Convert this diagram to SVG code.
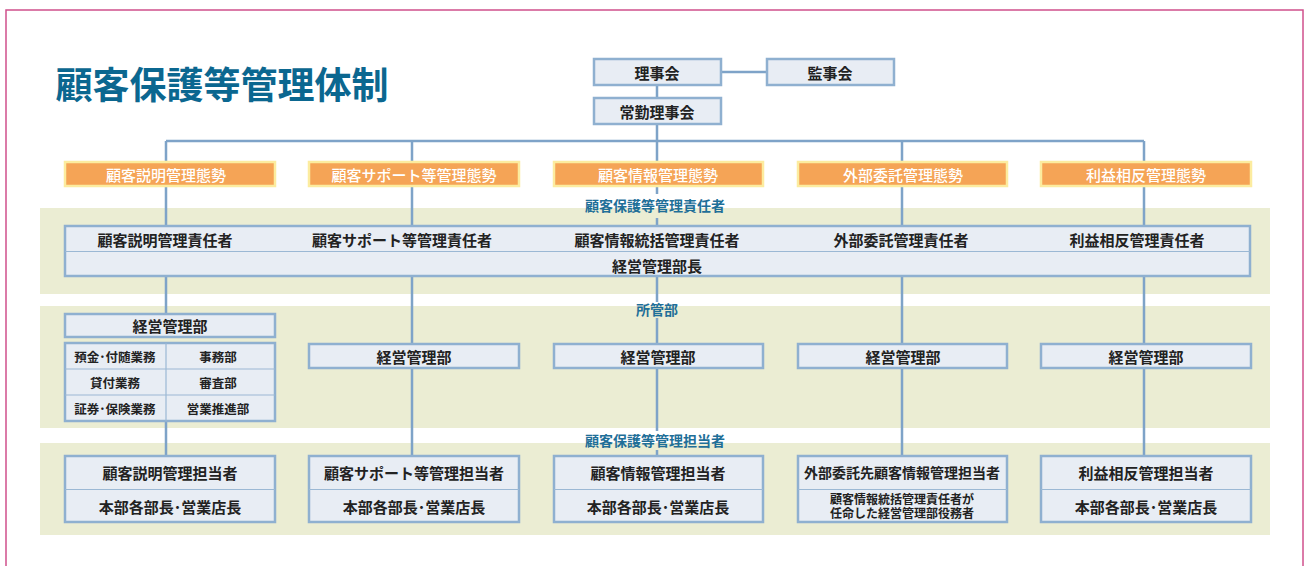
<svg xmlns="http://www.w3.org/2000/svg" width="1306" height="566" viewBox="0 0 1306 566">
<style>
text{font-family:"Noto Sans CJK JP","Noto Sans CJK SC",sans-serif;text-anchor:middle;dominant-baseline:central}
.box{fill:#e8edf4;stroke:#8fb0d0;stroke-width:2.5}
.div{stroke:#9bb8d4;stroke-width:1.2}
.or{fill:#f5a456;stroke:#fcec9f;stroke-width:2.5}
.band{fill:#ebedd3}
.t{font-size:15px;font-weight:bold;fill:#222}
.ts{font-size:12.5px;font-weight:bold;fill:#222}
.tx{font-size:12px;font-weight:bold;fill:#222}
.tw{font-size:15px;font-weight:500;fill:#fff}
.lb{font-size:14px;font-weight:bold;fill:#1f6f98}
.ln{stroke:#7ea3c8;stroke-width:2.5;fill:none}
</style>
<rect x="0" y="0" width="1306" height="566" fill="#fff"/>
<rect x="6" y="10" width="1297" height="600" fill="none" stroke="#d0508c" stroke-width="1.5"/>
<text x="222" y="83" style="font-size:37px;font-weight:bold;fill:#0b6790">顧客保護等管理体制</text>
<g id="bands">
<rect class="band" x="40" y="208" width="1230" height="86"/>
<rect class="band" x="40" y="306" width="1230" height="122"/>
<rect class="band" x="40" y="443" width="1230" height="92"/>
</g>
<g id="connectors">
<path class="ln" d="M721 72H766M657 86V97M657 124V141M166 141H1144M166 141V161M412 141V161M657 141V161M902 141V161M1144 141V161"/>
<path class="ln" d="M166 187V225M412 187V225M902 187V225M1144 187V225M657 187V194M657 218V225"/>
<path class="ln" d="M166 276V313M412 276V343M902 276V343M1144 276V343M657 276V302M657 318V343"/>
<path class="ln" d="M166 421V455M412 368V455M902 368V455M1144 368V455M657 368V431M657 450V455"/>
</g>
<g id="rijikai"><rect class="box" x="594" y="59" width="127" height="26"/><text class="t" x="657" y="72">理事会</text></g>
<g id="kanjikai"><rect class="box" x="767" y="59" width="127" height="26"/><text class="t" x="830" y="72">監事会</text></g>
<g id="jokin"><rect class="box" x="594" y="98" width="127" height="26"/><text class="t" x="657" y="111">常勤理事会</text></g>
<g id="taisei1"><rect class="or" x="65" y="162" width="210" height="24"/><text class="tw" x="166" y="174">顧客説明管理態勢</text></g>
<g id="taisei2"><rect class="or" x="309" y="162" width="210" height="24"/><text class="tw" x="414" y="174">顧客サポート等管理態勢</text></g>
<g id="taisei3"><rect class="or" x="554" y="162" width="209" height="24"/><text class="tw" x="658" y="174">顧客情報管理態勢</text></g>
<g id="taisei4"><rect class="or" x="798" y="162" width="209" height="24"/><text class="tw" x="903" y="174">外部委託管理態勢</text></g>
<g id="taisei5"><rect class="or" x="1041" y="162" width="210" height="24"/><text class="tw" x="1146" y="174">利益相反管理態勢</text></g>
<g id="label1"><text class="lb" x="655" y="205">顧客保護等管理責任者</text></g>
<g id="sekinin">
<rect class="box" x="65" y="226" width="1185" height="50"/>
<line class="div" x1="65" y1="251.5" x2="1250" y2="251.5"/>
<text class="t" x="165" y="239">顧客説明管理責任者</text>
<text class="t" x="402" y="239">顧客サポート等管理責任者</text>
<text class="t" x="657" y="239">顧客情報統括管理責任者</text>
<text class="t" x="901" y="239">外部委託管理責任者</text>
<text class="t" x="1137" y="239">利益相反管理責任者</text>
<text class="t" x="657" y="265">経営管理部長</text>
</g>
<g id="label2"><text class="lb" x="657" y="309">所管部</text></g>
<g id="shokan1">
<rect class="box" x="65" y="314" width="210" height="23"/>
<text class="t" x="170" y="325">経営管理部</text>
<rect class="box" x="65" y="343" width="210" height="78"/>
<path class="div" d="M65 369H275M65 395H275M166 343V421"/>
<text class="ts" x="115" y="356">預金･付随業務</text>
<text class="ts" x="218" y="356">事務部</text>
<text class="ts" x="115" y="382">貸付業務</text>
<text class="ts" x="218" y="382">審査部</text>
<text class="ts" x="115" y="408">証券･保険業務</text>
<text class="ts" x="218" y="408">営業推進部</text>
</g>
<g id="shokan2"><rect class="box" x="309" y="344" width="210" height="24"/><text class="t" x="414" y="356">経営管理部</text></g>
<g id="shokan3"><rect class="box" x="554" y="344" width="209" height="24"/><text class="t" x="658" y="356">経営管理部</text></g>
<g id="shokan4"><rect class="box" x="798" y="344" width="209" height="24"/><text class="t" x="903" y="356">経営管理部</text></g>
<g id="shokan5"><rect class="box" x="1041" y="344" width="210" height="24"/><text class="t" x="1146" y="356">経営管理部</text></g>
<g id="label3"><text class="lb" x="655" y="440">顧客保護等管理担当者</text></g>
<g id="tanto1"><rect class="box" x="65" y="456" width="210" height="66"/><line class="div" x1="65" y1="489.5" x2="275" y2="489.5"/><text class="t" x="170" y="472">顧客説明管理担当者</text><text class="t" x="170" y="506">本部各部長･営業店長</text></g>
<g id="tanto2"><rect class="box" x="309" y="456" width="210" height="66"/><line class="div" x1="309" y1="489.5" x2="519" y2="489.5"/><text class="t" x="414" y="472">顧客サポート等管理担当者</text><text class="t" x="414" y="506">本部各部長･営業店長</text></g>
<g id="tanto3"><rect class="box" x="554" y="456" width="209" height="66"/><line class="div" x1="554" y1="489.5" x2="763" y2="489.5"/><text class="t" x="658" y="472">顧客情報管理担当者</text><text class="t" x="658" y="506">本部各部長･営業店長</text></g>
<g id="tanto4"><rect class="box" x="798" y="456" width="209" height="66"/><line class="div" x1="798" y1="489.5" x2="1007" y2="489.5"/><text class="t" x="902" y="472" style="font-size:14px">外部委託先顧客情報管理担当者</text><text class="tx" x="902" y="498">顧客情報統括管理責任者が</text><text class="tx" x="902" y="512.5">任命した経営管理部役務者</text></g>
<g id="tanto5"><rect class="box" x="1041" y="456" width="210" height="66"/><line class="div" x1="1041" y1="489.5" x2="1251" y2="489.5"/><text class="t" x="1146" y="472">利益相反管理担当者</text><text class="t" x="1146" y="506">本部各部長･営業店長</text></g>
</svg>
